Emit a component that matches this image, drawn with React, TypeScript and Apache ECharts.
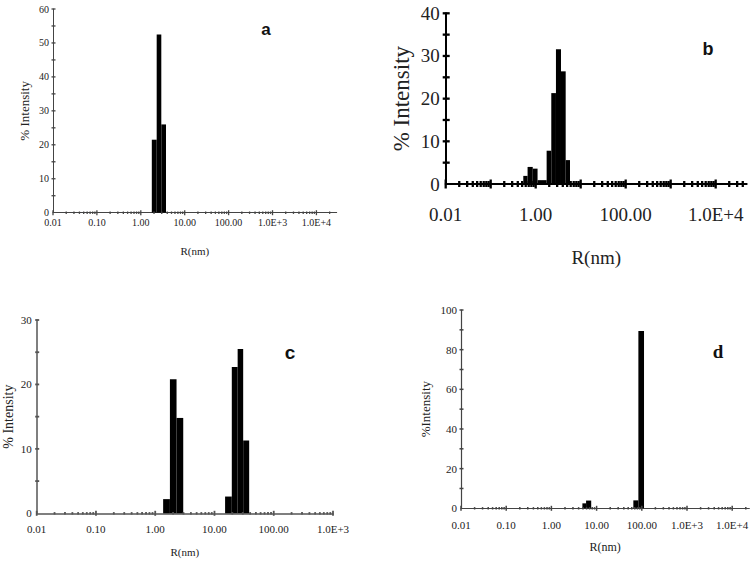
import React, { useEffect, useRef } from "react";
import * as echarts from "echarts";

// ---- tick labels ----
const decadeValues = [0.01, 0.1, 1, 10, 100, 1000, 10000];
const decadeLabels = ["0.01", "0.10", "1.00", "10.00", "100.00", "1.0E+3", "1.0E+4"];

// ---- panel a : bins (R in nm) and % intensity ----
const aBinLo = [1.78, 2.3, 2.93];
const aBinHi = [2.3, 2.93, 3.75];
const aIntensity = [21.5, 52.5, 26.0];

// ---- panel b ----
const bBinLo = [0.53, 0.66, 0.86, 1.1, 1.38, 1.75, 2.22, 2.82, 3.65, 4.64];
const bBinHi = [0.66, 0.86, 1.1, 1.38, 1.75, 2.22, 2.82, 3.65, 4.64, 5.78];
const bIntensity = [1.9, 4.0, 3.6, 0.9, 0.9, 7.8, 21.3, 31.6, 26.4, 5.6];

// ---- panel c ----
const cBinLo = [1.36, 1.77, 2.29, 15.1, 19.6, 24.6, 30.5];
const cBinHi = [1.77, 2.29, 2.97, 19.6, 24.6, 30.5, 38.5];
const cIntensity = [2.2, 20.8, 14.8, 2.6, 22.7, 25.5, 11.3];

// ---- panel d ----
const dBinLo = [4.85, 5.85, 65, 84];
const dBinHi = [5.85, 7.6, 84, 112];
const dIntensity = [2.5, 3.9, 4.0, 89.4];

const SERIF = "'Liberation Serif', 'Times New Roman', serif";
const SANS = "'Liberation Sans', Arial, sans-serif";

type Panel = {
  grid: { left: number; top: number; width: number; height: number };
  xMax: number;
  yMax: number;
  yStep: number;
  yTick: number;
  lo: number[];
  hi: number[];
  val: number[];
  labelSize: number;
  xNameSize: number;
  yNameSize: number;
  xLabelMargin: number;
  yLabelMargin: number;
  xNameGap: number;
  yNameGap: number;
  labelEvery: number;
  lineW: number;
  axisColor: string;
  yName: string;
  minorLen: number;
  majorLen: number;
  yTickLen: number;
  letter: { text: string; x: number; y: number; size: number; font: string };
};

const panels: Panel[] = [
  {
    grid: { left: 53, top: 9, width: 283.7, height: 203.7 },
    xMax: 28970, yMax: 60, yStep: 10, yTick: 5,
    lo: aBinLo, hi: aBinHi, val: aIntensity,
    labelSize: 10, xNameSize: 11, yNameSize: 13,
    xLabelMargin: 5, yLabelMargin: 4, xNameGap: 33, yNameGap: 22,
    labelEvery: 1, lineW: 1, axisColor: "#444", yName: "% Intensity",
    minorLen: 1.2, majorLen: 2.5, yTickLen: 1.5,
    letter: { text: "a", x: 266, y: 29, size: 17, font: SANS },
  },
  {
    grid: { left: 445.7, top: 13.3, width: 301, height: 170.7 },
    xMax: 48900, yMax: 40, yStep: 10, yTick: 5,
    lo: bBinLo, hi: bBinHi, val: bIntensity,
    labelSize: 19, xNameSize: 19, yNameSize: 23,
    xLabelMargin: 21, yLabelMargin: 6, xNameGap: 64, yNameGap: 33,
    labelEvery: 2, lineW: 2, axisColor: "#000", yName: "% Intensity",
    minorLen: 3, majorLen: 4.5, yTickLen: 3,
    letter: { text: "b", x: 708, y: 49, size: 18, font: SANS },
  },
  {
    grid: { left: 36.7, top: 320, width: 296.3, height: 193.3 },
    xMax: 1000, yMax: 30, yStep: 10, yTick: 5,
    lo: cBinLo, hi: cBinHi, val: cIntensity,
    labelSize: 11, xNameSize: 11, yNameSize: 14,
    xLabelMargin: 10, yLabelMargin: 5, xNameGap: 33, yNameGap: 21,
    labelEvery: 1, lineW: 1.5, axisColor: "#555", yName: "% Intensity",
    minorLen: 1.2, majorLen: 2.5, yTickLen: 1.5,
    letter: { text: "c", x: 290, y: 352, size: 19, font: SANS },
  },
  {
    grid: { left: 461, top: 310, width: 288.3, height: 198.3 },
    xMax: 23900, yMax: 100, yStep: 20, yTick: 10,
    lo: dBinLo, hi: dBinHi, val: dIntensity,
    labelSize: 11, xNameSize: 12, yNameSize: 13,
    xLabelMargin: 11, yLabelMargin: 4, xNameGap: 33, yNameGap: 29,
    labelEvery: 1, lineW: 1.2, axisColor: "#444", yName: "%Intensity",
    minorLen: 1.2, majorLen: 2.5, yTickLen: 1.5,
    letter: { text: "d", x: 718, y: 351, size: 19, font: SERIF },
  },
];

function decadeIndex(v: number): number {
  const l = Math.log10(v);
  const e = Math.round(l);
  if (Math.abs(l - e) > 1e-6) return -1;
  return e + 2;
}

function buildOption() {
  const grid: any[] = [];
  const xAxis: any[] = [];
  const yAxis: any[] = [];
  const series: any[] = [];
  const graphic: any[] = [];

  panels.forEach((p, i) => {
    grid.push({ ...p.grid, containLabel: false });
    xAxis.push({
      type: "log",
      logBase: 10,
      gridIndex: i,
      min: decadeValues[0],
      max: p.xMax,
      interval: 1,
      name: "R(nm)",
      nameLocation: "middle",
      nameGap: p.xNameGap,
      nameTextStyle: { fontFamily: SERIF, fontSize: p.xNameSize, color: "#222" },
      axisLine: { show: true, onZero: false, lineStyle: { color: p.axisColor, width: p.lineW } },
      axisTick: { show: false },
      splitLine: { show: false },
      minorTick: { show: false },
      axisLabel: {
        show: true,
        margin: p.xLabelMargin,
        fontFamily: SERIF,
        fontSize: p.labelSize,
        color: "#222",
        hideOverlap: false,
        showMinLabel: true,
        showMaxLabel: true,
        formatter: (v: number) => {
          const idx = decadeIndex(v);
          if (idx < 0 || idx >= decadeLabels.length) return "";
          if (idx % p.labelEvery !== 0) return "";
          return decadeLabels[idx];
        },
      },
    });
    yAxis.push({
      type: "value",
      gridIndex: i,
      min: 0,
      max: p.yMax,
      interval: p.yStep,
      name: p.yName,
      nameLocation: "middle",
      nameRotate: 90,
      nameGap: p.yNameGap,
      nameTextStyle: { fontFamily: SERIF, fontSize: p.yNameSize, color: "#222" },
      axisLine: { show: true, lineStyle: { color: p.axisColor, width: p.lineW } },
      axisTick: { show: false },
      splitLine: { show: false },
      axisLabel: {
        margin: p.yLabelMargin,
        fontFamily: SERIF,
        fontSize: p.labelSize,
        color: "#222",
      },
    });

    // histogram bins
    series.push({
      type: "custom",
      xAxisIndex: i,
      yAxisIndex: i,
      encode: { x: [0, 1], y: 2 },
      data: p.lo.map((lo, k) => [lo, p.hi[k], p.val[k]]),
      renderItem: (params: any, api: any) => {
        const p0 = api.coord([api.value(0), 0]);
        const p1 = api.coord([api.value(1), api.value(2)]);
        return {
          type: "rect",
          shape: { x: p0[0], y: p1[1], width: p1[0] - p0[0], height: p0[1] - p1[1] },
          style: { fill: "#000" },
        };
      },
      z: 3,
    });

    // x-axis ticks (decades and 2..9 minors), crossing the axis
    const xt: number[][] = [];
    const maxExp = Math.floor(Math.log10(p.xMax) + 1e-9);
    for (let e = -2; e <= maxExp; e++) {
      for (let m = 1; m <= 9; m++) {
        const v = m * Math.pow(10, e);
        if (v > p.xMax * 1.0001) break;
        xt.push([v, m === 1 ? 1 : 0]);
      }
    }
    series.push({
      type: "custom",
      xAxisIndex: i,
      yAxisIndex: i,
      clip: false,
      silent: true,
      encode: { x: 0 },
      data: xt,
      renderItem: (params: any, api: any) => {
        const pt = api.coord([api.value(0), 0]);
        const len = api.value(1) === 1 ? p.majorLen : p.minorLen;
        return {
          type: "line",
          shape: { x1: pt[0], y1: pt[1] - len, x2: pt[0], y2: pt[1] + len },
          style: { stroke: p.axisColor, lineWidth: p.lineW + 0.3 },
        };
      },
      z: 4,
    });

    // y-axis ticks crossing the axis
    const yt: number[][] = [];
    for (let v = p.yTick; v <= p.yMax + 1e-9; v += p.yTick) yt.push([decadeValues[0], v]);
    series.push({
      type: "custom",
      xAxisIndex: i,
      yAxisIndex: i,
      clip: false,
      silent: true,
      encode: { x: 0, y: 1 },
      data: yt,
      renderItem: (params: any, api: any) => {
        const pt = api.coord([api.value(0), api.value(1)]);
        return {
          type: "line",
          shape: { x1: pt[0] - p.yTickLen, y1: pt[1], x2: pt[0] + p.yTickLen + 1, y2: pt[1] },
          style: { stroke: p.axisColor, lineWidth: p.lineW + 0.3 },
        };
      },
      z: 4,
    });

    graphic.push({
      type: "text",
      x: p.letter.x,
      y: p.letter.y,
      style: {
        text: p.letter.text,
        fontFamily: p.letter.font,
        fontWeight: "bold",
        fontSize: p.letter.size,
        fill: "#111",
        align: "center",
        verticalAlign: "middle",
      },
    });
  });

  return {
    animation: false,
    backgroundColor: "#fff",
    grid,
    xAxis,
    yAxis,
    series,
    graphic,
  };
}

export default function App() {
  const ref = useRef<HTMLDivElement>(null);
  useEffect(() => {
    if (!ref.current) return;
    const chart = echarts.init(ref.current, undefined, { renderer: "svg" });
    chart.setOption(buildOption() as any);
    return () => chart.dispose();
  }, []);
  return (
    <div
      ref={ref}
      style={{ position: "absolute", left: 0, top: 0, width: 755, height: 565, background: "#fff" }}
    />
  );
}
